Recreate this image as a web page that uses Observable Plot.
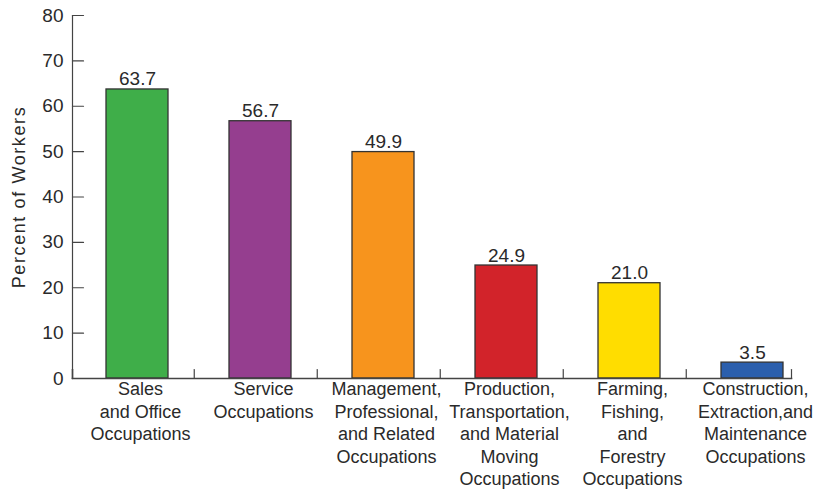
<!DOCTYPE html>
<html>
<head>
<meta charset="utf-8">
<script src="https://cdn.jsdelivr.net/npm/d3@7"></script>
<script src="https://cdn.jsdelivr.net/npm/@observablehq/plot@0.6"></script>
<style>
  html, body { margin: 0; padding: 0; background: #fff; }
  #chart svg { display: block; }
</style>
</head>
<body>
<div id="chart"></div>
<script>
const categories = [
  "Sales\nand Office\nOccupations",
  "Service\nOccupations",
  "Management,\nProfessional,\nand Related\nOccupations",
  "Production,\nTransportation,\nand Material\nMoving\nOccupations",
  "Farming,\nFishing,\nand\nForestry\nOccupations",
  "Construction,\nExtraction,and\nMaintenance\nOccupations"
];
const values = [63.7, 56.7, 49.9, 24.9, 21.0, 3.5];
const colors = ["#3fae49", "#953e8f", "#f7941d", "#d2232a", "#ffdd00", "#2b5fad"];
const yTicks = [0, 10, 20, 30, 40, 50, 60, 70, 80];
const yTitle = "Percent of Workers";

const data = categories.map((c, i) => ({category: c, value: values[i], color: colors[i]}));

const axisColor = "#444";
const textColor = "#2a2a2a";
const font = "Arial, 'Liberation Sans', sans-serif";

const step = 123.5;
const tickShape = {draw(context, l) { context.moveTo(0, 0); context.lineTo(0, -l); }};

const chart = Plot.plot({
  width: 817,
  height: 491,
  marginTop: 15,
  marginBottom: 113,
  marginLeft: 72,
  marginRight: 26,
  style: {fontFamily: font, color: textColor, background: "#fff"},
  x: {domain: categories, range: [43.35, 846.1], padding: 0.5, label: null},
  y: {domain: [0, 80], ticks: yTicks, label: null},
  marks: [
    Plot.barY(data, {x: "category", y: "value", fill: "color", stroke: "#333", strokeWidth: 1.3}),
    Plot.text(data, {x: "category", y: "value", text: d => d.value.toFixed(1), lineAnchor: "bottom", dy: -4, fontSize: 19, fill: textColor}),
    // y axis line and x axis line
    Plot.frame({anchor: "left", stroke: axisColor, strokeWidth: 1.2}),
    Plot.frame({anchor: "bottom", stroke: axisColor, strokeWidth: 1.6}),
    // inward y ticks
    Plot.vector(yTicks.slice(1), {y: d => d, frameAnchor: "left", rotate: 90, length: 11, anchor: "start", shape: tickShape, stroke: axisColor, strokeWidth: 1.2}),
    // x boundary ticks
    Plot.vector(categories.slice(0, 5), {x: d => d, frameAnchor: "bottom", dx: step / 2 - 5, length: 9, anchor: "start", shape: tickShape, stroke: axisColor, strokeWidth: 1.2}),
    Plot.vector([0], {frameAnchor: "bottom-right", length: 9, anchor: "start", shape: tickShape, stroke: axisColor, strokeWidth: 1.2}),
    Plot.vector([0], {frameAnchor: "bottom-left", length: 9, anchor: "start", shape: tickShape, stroke: axisColor, strokeWidth: 1.6}),
    Plot.axisY(yTicks, {tickSize: 0, tickPadding: 9, fontSize: 19, fill: textColor, label: null}),
    Plot.axisX({tickSize: 0, tickPadding: 1, fontSize: 18, lineHeight: 1.25, fill: textColor, dx: 3, label: null}),
    Plot.text([yTitle], {text: d => d, frameAnchor: "left", textAnchor: "middle", lineAnchor: "middle", rotate: -90, dx: -53, fontSize: 18, fill: textColor})
  ]
});
d3.select(chart).selectAll("text")
  .filter(function() { return this.textContent === yTitle; })
  .style("letter-spacing", "1.6px");
document.getElementById("chart").appendChild(chart);
</script>
</body>
</html>
